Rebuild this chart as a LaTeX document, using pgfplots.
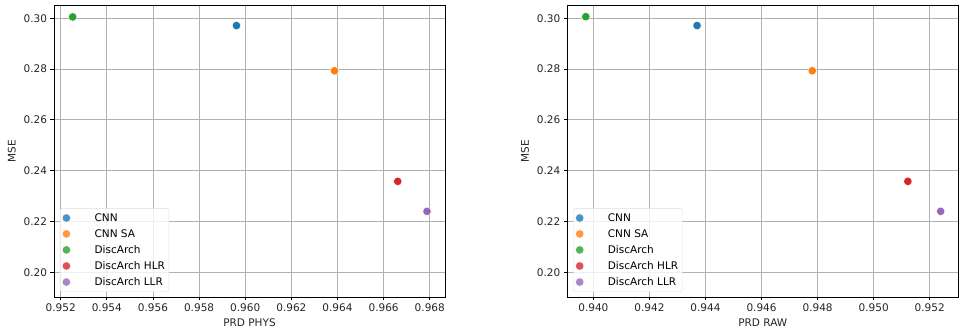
\documentclass[border=0pt]{standalone}
\usepackage{pgfplots}
\pgfplotsset{compat=1.18}
\usepackage{fontspec}
\setmainfont{DejaVu Sans}
\definecolor{c1}{HTML}{1F77B4}
\definecolor{c2}{HTML}{FF7F0E}
\definecolor{c3}{HTML}{2CA02C}
\definecolor{c4}{HTML}{D62728}
\definecolor{c5}{HTML}{9467BD}
\definecolor{gridc}{HTML}{B0B0B0}
\definecolor{txt}{HTML}{262626}
\newcommand{\legent}[1]{\addlegendentry{\hspace{22pt}#1}}
\pgfplotsset{
  myax/.style={
    scale only axis, width=391pt, height=292pt,
    anchor=south west,
    axis line style={black, line width=0.8pt},
    grid=major, major grid style={gridc, line width=0.8pt},
    tick align=outside, tick pos=left,
    major tick length=3.5pt, tick style={black, line width=0.8pt},
    font=\fontsize{10.5}{12.6}\selectfont,
    tick label style={text=txt},
    label style={text=txt},
    /pgf/number format/assume math mode=true,
    ymin=0.1903, ymax=0.3052,
    ytick={0.20,0.22,0.24,0.26,0.28,0.30},
    yticklabel style={/pgf/number format/.cd, fixed, fixed zerofill, precision=2},
    xticklabel style={/pgf/number format/.cd, fixed, fixed zerofill, precision=3},
    ylabel={MSE},
    ylabel style={yshift=1pt},
    xlabel style={yshift=0pt},
    legend style={at={(0,0)}, anchor=south west, xshift=6pt, yshift=5pt,
      draw=gray!25, rounded corners=2pt, fill=white, fill opacity=0.8, text opacity=1,
      font=\fontsize{10.5}{12.6}\selectfont, row sep=2.6pt, inner xsep=2pt, inner ysep=3pt},
    legend cell align=left,
    legend image post style={xshift=9pt},
  },
  sc/.style={only marks, mark=*, mark size=4.2pt, mark options={fill=#1, draw=white, line width=0.4pt}},
}
\begin{document}
\begin{tikzpicture}
\useasboundingbox (0,0) rectangle (959pt,336pt);
\begin{axis}[myax, at={(54pt,39pt)},
  xmin=0.95171, xmax=0.96866,
  xtick={0.952,0.954,0.956,0.958,0.960,0.962,0.964,0.966,0.968},
  xlabel={PRD PHYS}]
\addplot[sc=c1] coordinates {(0.95962,0.2971)}; \legent{CNN}
\addplot[sc=c2] coordinates {(0.96387,0.2793)}; \legent{CNN SA}
\addplot[sc=c3] coordinates {(0.95252,0.3005)}; \legent{DiscArch}
\addplot[sc=c4] coordinates {(0.96661,0.2358)}; \legent{DiscArch HLR}
\addplot[sc=c5] coordinates {(0.96788,0.2240)}; \legent{DiscArch LLR}
\end{axis}
\begin{axis}[myax, at={(567.3pt,39pt)},
  xmin=0.93907, xmax=0.95302,
  xtick={0.940,0.942,0.944,0.946,0.948,0.950,0.952},
  xlabel={PRD RAW}]
\addplot[sc=c1] coordinates {(0.94370,0.2971)}; \legent{CNN}
\addplot[sc=c2] coordinates {(0.94781,0.2793)}; \legent{CNN SA}
\addplot[sc=c3] coordinates {(0.93973,0.3006)}; \legent{DiscArch}
\addplot[sc=c4] coordinates {(0.95122,0.2358)}; \legent{DiscArch HLR}
\addplot[sc=c5] coordinates {(0.95239,0.2240)}; \legent{DiscArch LLR}
\end{axis}
\end{tikzpicture}
\end{document}
